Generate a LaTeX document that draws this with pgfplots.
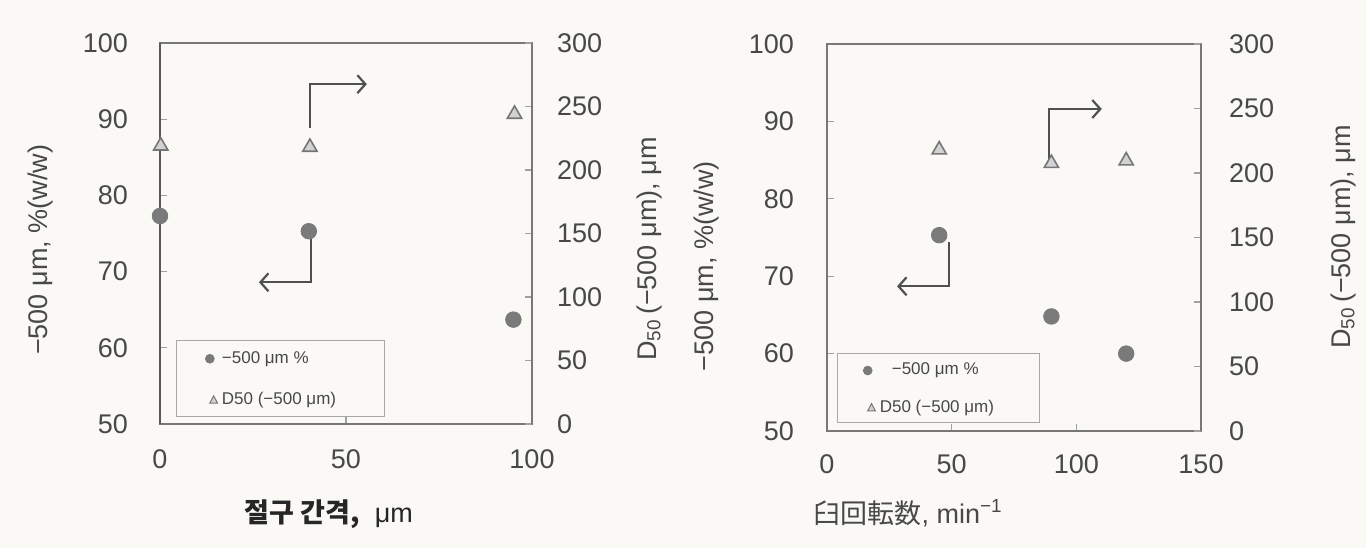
\documentclass[border=0pt]{standalone}
\usepackage{fontspec}
\setmainfont{Liberation Sans}
\newfontfamily\kr{Noto Sans CJK KR}
\newfontfamily\jp{Noto Sans CJK JP}
\usepackage{pgfplots}
\pgfplotsset{compat=1.18}
\usetikzlibrary{arrows.meta}
\definecolor{bg}{RGB}{250,249,246}
\definecolor{frame}{RGB}{120,120,120}
\definecolor{tickc}{RGB}{72,72,72}
\definecolor{dotc}{RGB}{122,122,122}
\definecolor{triE}{RGB}{118,118,118}
\definecolor{triF}{RGB}{210,210,210}
\definecolor{arr}{RGB}{80,80,80}
\newcommand{\fs}{\fontsize{13.5}{15}\selectfont}
\pgfplotsset{
  base/.style={scale only axis, clip=false, anchor=south west,
    tick align=inside, major tick length=3.5pt,
    every tick/.style={draw=frame!70, line width=0.6pt},
    axis line style={draw=frame, line width=1pt},
    tick label style={font=\fs, text=tickc},
    /pgf/number format/assume math mode=true,
    legend cell align=left,
  },
  dots/.style={only marks, mark=*, mark size=3.9pt, mark options={fill=dotc, draw=dotc}},
  tris/.style={only marks, mark=triangle*, mark size=4.1pt, mark options={fill=triF, draw=triE, line width=0.8pt}},
  arrowline/.style={draw=arr, line width=1.1pt, no marks, forget plot, -{Straight Barb[length=4pt,width=9pt]}},
  legdot/.style={legend image code/.code={\draw[dotc, fill=dotc] (0.1cm,0cm) circle (2.2pt);}},
  legtri/.style={legend image code/.code={\draw[triE, fill=triF, line width=0.5pt] (0.1cm,-1.6pt) -- ++(3.8pt,0) -- ++(-1.9pt,3.6pt) -- cycle;}},
}
\begin{document}
\begin{tikzpicture}
\path[use as bounding box, fill=bg] (0,0) rectangle (683pt,274pt);
% ---------------- left panel ----------------
\begin{axis}[base, at={(80pt,62pt)}, width=186pt, height=190.5pt,
  xmin=0, xmax=100, ymin=50, ymax=100,
  xtick={0,50,100}, ytick={50,60,...,100},
  xtick pos=bottom, ytick pos=left,
  xticklabel style={yshift=-9.5pt}, yticklabel style={xshift=-12.5pt},
  ylabel={−500 μm, \%(w/w)},
  every axis y label/.style={at={(axis description cs:-0.32,0.457)}, anchor=center, rotate=90, font=\fs, text=tickc},
  xlabel={{\kr\bfseries 절구 간격,}\ \ μm},
  every axis x label/.style={at={(axis description cs:0.454,-0.236)}, anchor=center, font=\fs, text=black!85},
]
\draw[black!65, line width=1.4pt] (rel axis cs:0,0) -- (rel axis cs:0,1);
\addplot[dots] coordinates {(0,77.3) (40,75.3) (95,63.7)};
\addplot[arrowline] coordinates {(40.4,88.9) (40.4,94.6) (55.6,94.6)};
\addplot[arrowline] coordinates {(40.6,74.6) (40.6,68.6) (26.6,68.6)};
\end{axis}
\begin{axis}[base, at={(80pt,62pt)}, width=186pt, height=190.5pt,
  xmin=0, xmax=100, ymin=0, ymax=300,
  axis x line=none, axis y line*=right, ytick pos=right,
  ytick={0,50,...,300},
  yticklabel style={xshift=9pt},
  ylabel={D\textsubscript{50}\,(−500 μm), μm},
  every axis y label/.style={at={(axis description cs:1.315,0.459)}, anchor=center, rotate=90, font=\fs, text=tickc},
  legend style={draw=none, fill=none, at={(axis description cs:0.12,0.117)}, anchor=west,
    font=\fontsize{8.5}{10}\selectfont, text=tickc, row sep=9pt, inner sep=0pt},
]
\draw[frame!65, line width=0.5pt] (axis description cs:0.044,0.019) rectangle (axis description cs:0.603,0.219);
\addlegendimage{legdot}
\addlegendentry{−500 μm \%}
\addlegendimage{legtri}
\addlegendentry{D50 (−500 μm)}
\addplot[tris, forget plot] coordinates {(0.2,219) (40.3,218) (95.3,244)};
\end{axis}
% ---------------- right panel ----------------
\begin{axis}[base, at={(413.5pt,58.5pt)}, width=187pt, height=193.5pt,
  xmin=0, xmax=150, ymin=50, ymax=100,
  xtick={0,50,100,150}, ytick={50,60,...,100},
  xtick pos=bottom, ytick pos=left,
  xticklabel style={yshift=-8.5pt}, yticklabel style={xshift=-13pt},
  ylabel={−500 μm, \%(w/w)},
  every axis y label/.style={at={(axis description cs:-0.321,0.426)}, anchor=center, rotate=90, font=\fs, text=tickc},
  xlabel={{\jp 臼回転数}, min\textsuperscript{−1}},
  every axis x label/.style={at={(axis description cs:0.217,-0.212)}, anchor=center, font=\fs, text=tickc},
]
\addplot[dots] coordinates {(45,75.3) (90,64.8) (120,60.0)};
\addplot[arrowline] coordinates {(89.1,84.9) (89.1,91.6) (110.2,91.6)};
\addplot[arrowline] coordinates {(48.8,74.4) (48.8,68.7) (28.1,68.7)};
\end{axis}
\begin{axis}[base, at={(413.5pt,58.5pt)}, width=187pt, height=193.5pt,
  xmin=0, xmax=150, ymin=0, ymax=300,
  axis x line=none, axis y line*=right, ytick pos=right,
  ytick={0,50,...,300},
  yticklabel style={xshift=10.5pt},
  ylabel={D\textsubscript{50}\,(−500 μm), μm},
  every axis y label/.style={at={(axis description cs:1.38,0.501)}, anchor=center, rotate=90, font=\fs, text=tickc},
  legend style={draw=none, fill=none, at={(axis description cs:0.095,0.108)}, anchor=west,
    font=\fontsize{8.5}{10}\selectfont, text=tickc, row sep=7pt, inner sep=0pt},
]
\draw[frame!65, line width=0.5pt] (axis description cs:0.028,0.023) rectangle (axis description cs:0.569,0.201);
\addlegendimage{legdot}
\addlegendentry{\hspace*{6pt}−500 μm \%}
\addlegendimage{legtri}
\addlegendentry{D50 (−500 μm)}
\addplot[tris, forget plot] coordinates {(45,218) (90,207.5) (120,209.5)};
\end{axis}
\end{tikzpicture}
\end{document}
